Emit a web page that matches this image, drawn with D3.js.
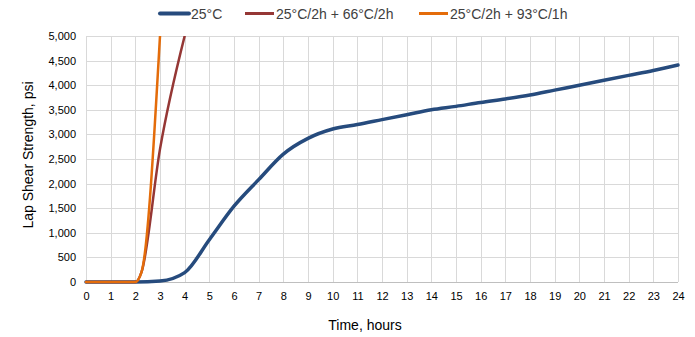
<!DOCTYPE html>
<html><head><meta charset="utf-8">
<script src="https://cdn.jsdelivr.net/npm/d3@7"></script>
<style>body{margin:0;background:#fff}svg{display:block;font-family:"Liberation Sans",Arial,sans-serif}</style>
</head><body><svg id="c" width="695" height="337"></svg>
<script>
const seriesNames = ["25°C", "25°C/2h + 66°C/2h", "25°C/2h + 93°C/1h"];
const seriesColors = ["#264b7d", "#953735", "#e46c0a"];
const seriesWidths = [3.5, 2.5, 2.5];
const hoursA = [0,1,2,3,4,5,6,7,8,9,10,11,12,13,14,15,16,17,18,19,20,21,22,23,24];
const valuesA = [0,0,0,20,190,860,1540,2080,2600,2920,3110,3200,3300,3400,3500,3570,3650,3720,3800,3900,4000,4100,4200,4300,4410];
const hoursB = [0,1,2,2.25,3,4];
const valuesB = [0,0,0,200,2700,5000];
const hoursC = [0,1,2,2.25,3];
const valuesC = [0,0,0,200,5000];
const xTicks = [0,1,2,3,4,5,6,7,8,9,10,11,12,13,14,15,16,17,18,19,20,21,22,23,24];
const yTicks = [0,500,1000,1500,2000,2500,3000,3500,4000,4500,5000];

const svg = d3.select("#c");
const m = {l:86, r:678, t:36, b:282};
const x = d3.scaleLinear().domain([0,24]).range([m.l, m.r]);
const y = d3.scaleLinear().domain([0,5000]).range([m.b, m.t]);

// gridlines
const g = svg.append("g");
g.selectAll(".hg").data(yTicks.filter(d=>d>0)).join("line")
  .attr("x1", m.l).attr("x2", m.r).attr("y1", d=>Math.round(y(d))+0.5).attr("y2", d=>Math.round(y(d))+0.5)
  .attr("stroke", "#d9d9d9").attr("stroke-width", 1);
g.selectAll(".vg").data(xTicks).join("line")
  .attr("x1", d=>Math.round(x(d))+0.5).attr("x2", d=>Math.round(x(d))+0.5).attr("y1", m.t).attr("y2", m.b)
  .attr("stroke", "#d9d9d9").attr("stroke-width", 1);

// axes
const xAxis = svg.append("g").attr("transform", `translate(0,${Math.round(m.b)+0.5})`)
  .call(d3.axisBottom(x).tickValues(xTicks).tickSize(0).tickPadding(10).tickFormat(d3.format("d")));
xAxis.select(".domain").attr("stroke", "#bfbfbf").attr("d", `M${m.l},0H${m.r}`);
xAxis.selectAll("text").attr("font-size", 11).attr("fill", "#000").attr("font-family", "Liberation Sans, Arial, sans-serif");

const yAxis = svg.append("g").attr("transform", `translate(${m.l},0)`)
  .call(d3.axisLeft(y).tickValues(yTicks).tickSize(0).tickPadding(10).tickFormat(d3.format(",")));
yAxis.select(".domain").remove();
yAxis.selectAll("text").attr("font-size", 11).attr("fill", "#000").attr("font-family", "Liberation Sans, Arial, sans-serif");

// clip
svg.append("clipPath").attr("id", "clip").append("rect")
  .attr("x", m.l-3).attr("y", m.t).attr("width", m.r-m.l+6).attr("height", m.b-m.t+3);

const data = [
  hoursA.map((h,i)=>[h, valuesA[i]]),
  hoursB.map((h,i)=>[h, valuesB[i]]),
  hoursC.map((h,i)=>[h, valuesC[i]])
];
const line = d3.line().x(d=>x(d[0])).y(d=>y(d[1])).curve(d3.curveMonotoneX);
svg.append("g").attr("clip-path", "url(#clip)").selectAll("path").data(data).join("path")
  .attr("d", line).attr("fill", "none")
  .attr("stroke", (d,i)=>seriesColors[i]).attr("stroke-width", (d,i)=>seriesWidths[i])
  .attr("stroke-linejoin", "round").attr("stroke-linecap", "round");

// legend
const legendX = [160, 245, 419];
const lg = svg.append("g");
seriesNames.forEach((n,i)=>{
  lg.append("line").attr("x1", legendX[i]).attr("x2", legendX[i]+29).attr("y1", 13.5).attr("y2", 13.5)
    .attr("stroke", seriesColors[i]).attr("stroke-width", i===0?4:3).attr("stroke-linecap", i===0?"round":"butt");
  lg.append("text").attr("x", legendX[i]+31).attr("y", 18.5).attr("font-size", 14).attr("fill", "#404040").text(n);
});

// axis titles
svg.append("text").attr("x", 365).attr("y", 330).attr("text-anchor", "middle").attr("font-size", 14).attr("fill", "#000").text("Time, hours");
svg.append("text").attr("transform", "translate(33,155) rotate(-90)").attr("text-anchor", "middle").attr("font-size", 14).attr("fill", "#000").text("Lap Shear Strength, psi");
</script></body></html>
